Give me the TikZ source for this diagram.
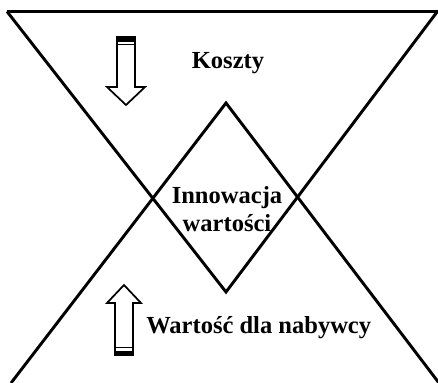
\documentclass[tikz,border=0pt]{standalone}
\usepackage{fontspec}
\setmainfont{Liberation Serif}
\usepackage{tikz}

\begin{document}
\begin{tikzpicture}[x=0.75pt,y=0.75pt,yscale=-1,xscale=1,
  edge/.style={line width=2.2pt,line join=miter},
  blockarrow/.style={line width=1.3pt,line join=miter,fill=white},
  lbl/.style={inner sep=0.75pt,font=\fontsize{18.4}{21}\selectfont\bfseries}]
\useasboundingbox (0,0) rectangle (438,382);

%Corners of both triangles
\coordinate (tl) at (7,11.5);
\coordinate (tr) at (438,11.5);
\coordinate (tapex) at (226,292);
\coordinate (bl) at (11,383);
\coordinate (br) at (439,383);
\coordinate (bapex) at (226,103);

%Shape: Triangle (upper, without the fill)
\draw [edge]  (tl) -- (tr) ;
\draw [edge]  (tl) -- (tapex) -- (437,12) ;
%Shape: Triangle (lower, base cut off)
\draw [edge]  (bl) -- (bapex) -- (br) ;

%Shape: Down Arrow
\draw [blockarrow]  (117,37) -- (135,37) -- (135,87) -- (145,87) -- (126,105) -- (107,87) -- (117,87) -- cycle ;
\fill  (117,37) rectangle (135,41.5) ;
\draw [line width=1pt]  (117,44.5) -- (135,44.5) ;
%Shape: Up Arrow
\draw [blockarrow]  (115,355) -- (133,355) -- (133,303) -- (141,303) -- (124,285) -- (107,303) -- (115,303) -- cycle ;
\fill  (115,350.5) rectangle (133,355) ;
\draw [line width=1pt]  (115,347.5) -- (133,347.5) ;

% Text Node
\node [lbl] (koszty) at (228,63) {Koszty};
% Text Node
\node [lbl,align=center] (innowacja) at (227,209) {Innowacja\\wartości};
% Text Node
\node [lbl,anchor=west] (wartosc) at (145,328) {Wartość dla nabywcy};

\end{tikzpicture}
\end{document}
